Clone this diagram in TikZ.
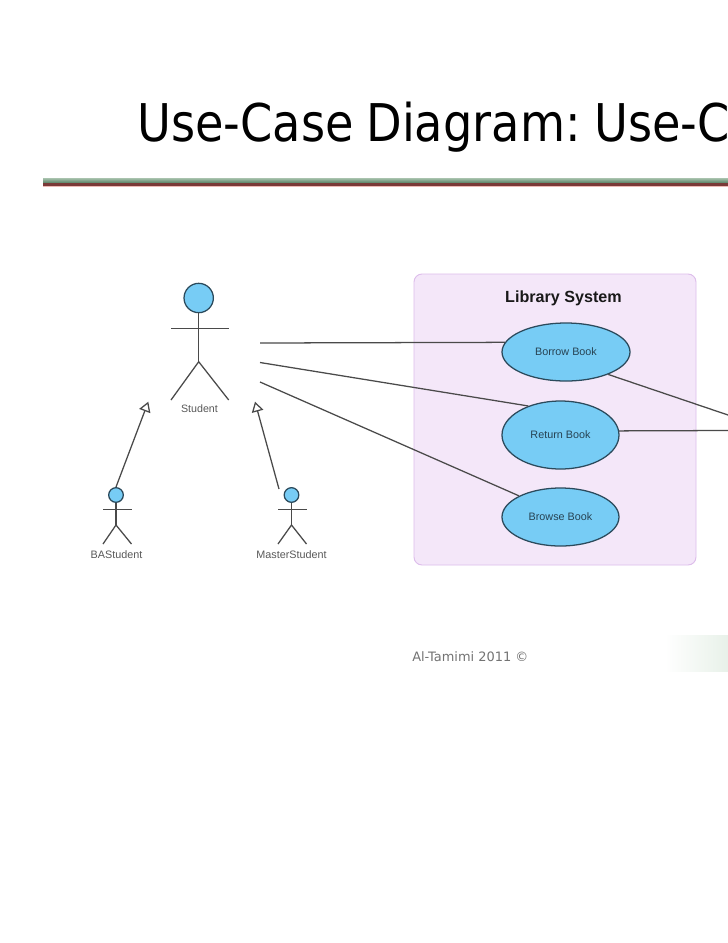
\documentclass[tikz,border=0pt]{standalone}
\usepackage{fontspec}
\setmainfont{Liberation Sans}
\newfontfamily\titlefont[FakeStretch=0.89,WordSpace=0.6]{DejaVu Sans}
\newfontfamily\footfont{DejaVu Sans}
\usetikzlibrary{shapes.geometric,arrows.meta}
\definecolor{ucfill}{HTML}{77CCF5}
\definecolor{ucline}{HTML}{2B4A5C}
\definecolor{lineink}{HTML}{4A4A4A}
\definecolor{sysfill}{HTML}{F4E7F9}
\definecolor{sysline}{HTML}{DDBDEB}
\definecolor{rulegreentop}{HTML}{A9C3AE}
\definecolor{rulegreen}{HTML}{4F7A5C}
\definecolor{rulered}{HTML}{7A3A38}
\definecolor{rulepink}{HTML}{EDB9B5}
\definecolor{footgreen}{HTML}{E8F1E9}
\tikzset{
  usecase/.style={draw=ucline,fill=ucfill,line width=0.95pt,ellipse,inner sep=0pt,font=\fontsize{8.1pt}{10pt}\selectfont,text=ucline!90!black},
  head/.style={draw=ucline,fill=ucfill,line width=0.95pt,circle,inner sep=0pt},
  limb/.style={draw=lineink,line width=0.95pt},
  assoc/.style={draw=lineink,line width=0.95pt},
  gener/.style={draw=lineink,line width=0.95pt,-{Triangle[open,length=7.5pt,width=8.8pt,fill=white]}},
  actorlabel/.style={text=black!65,inner sep=0pt},
}
\begin{document}
\begin{tikzpicture}[x=0.75pt,y=-0.75pt]
\path[clip] (0,0) rectangle (728,943);
\fill[white] (0,0) rectangle (728,943);
% title
\node[anchor=base west,inner sep=0pt,text=black] (title) at (137,141)
  {\titlefont\fontsize{39pt}{44pt}\selectfont Use-Case\kern3pt{} Diagram: Use-C};
% header rule
\fill[top color=rulegreentop,bottom color=rulegreen] (43,178) rectangle (728,183.4);
\fill[rulered] (43,183.4) rectangle (728,186.4);
\fill[rulepink] (43,186.4) rectangle (728,187.4);
% system
\node[draw=sysline,fill=sysfill,rounded corners=6pt,line width=0.7pt,
  minimum width=211.5pt,minimum height=218.25pt,inner sep=0pt] (system) at (555,419.5) {};
\node[font=\bfseries\fontsize{12.1pt}{14pt}\selectfont,text=black!90,inner sep=0pt] (systitle) at (563.5,298) {Library System};
% use cases
\node[usecase,minimum width=96pt,minimum height=43.5pt] (borrow) at (566,352) {Borrow Book};
\node[usecase,minimum width=87.75pt,minimum height=51pt] (return) at (560.5,435) {Return Book};
\node[usecase,minimum width=87.75pt,minimum height=43.5pt] (browse) at (560.5,517) {Browse Book};
% student
\node[head,minimum size=22pt] (stuhead) at (198.7,298) {};
\coordinate (stuarml) at (171,328.3);
\coordinate (stuarmr) at (228.7,328.3);
\coordinate (stuhip) at (198.7,361.7);
\coordinate (stufootl) at (171,400);
\coordinate (stufootr) at (228.7,400);
\draw[limb] (stuhead.south) -- (stuhip);
\draw[limb] (stuarml) -- (stuarmr);
\draw[limb] (stufootl) -- (stuhip) -- (stufootr);
\node[actorlabel,font=\fontsize{8pt}{10pt}\selectfont] (stulabel) at (199.5,409) {Student};
% BA student
\node[head,minimum size=11pt] (bahead) at (116,495) {};
\coordinate (baarml) at (103,509.7);
\coordinate (baarmr) at (131.5,509.7);
\coordinate (bahip) at (116,525);
\coordinate (bafootl) at (103,544);
\coordinate (bafootr) at (131.5,544);
\draw[limb] (bahead.south) -- (bahip);
\draw[limb] (baarml) -- (baarmr);
\draw[limb] (bafootl) -- (bahip) -- (bafootr);
\node[actorlabel,font=\fontsize{8.1pt}{10pt}\selectfont] (balabel) at (116.5,555) {BAStudent};
% Master student
\node[head,minimum size=11pt] (mahead) at (291.5,495) {};
\coordinate (maarml) at (278,509.7);
\coordinate (maarmr) at (306.5,509.7);
\coordinate (mahip) at (291.5,525);
\coordinate (mafootl) at (278,544);
\coordinate (mafootr) at (306.5,544);
\draw[limb] (mahead.south) -- (mahip);
\draw[limb] (maarml) -- (maarmr);
\draw[limb] (mafootl) -- (mahip) -- (mafootr);
\node[actorlabel,font=\fontsize{8.1pt}{10pt}\selectfont] (malabel) at (291.5,555) {MasterStudent};
% generalisations
\coordinate (batip) at (148.3,401.7);
\coordinate (matip) at (255,401.7);
\coordinate (mastart) at (279,489);
\draw[gener] (bahead.north) -- (batip);
\draw[gener] (mastart) -- (matip);
% associations
\coordinate (s1) at (260,343);
\coordinate (s2) at (260,362.5);
\coordinate (s3) at (260,382);
\coordinate (r1) at (728,415);
\coordinate (r2) at (728,430.5);
\draw[assoc] (s1) -- (borrow.171.5);
\draw[assoc] (s2) -- (return.138.8);
\draw[assoc] (s3) -- (browse.153);
\draw[assoc] (borrow.332) -- (r1);
\draw[assoc] (return.4.3) -- (r2);
% footer
\shade[left color=white,right color=footgreen] (665,635) rectangle (728,671);
\node[anchor=base west,inner sep=0pt,text=black!55,font=\footfont\fontsize{9.7pt}{12pt}\selectfont] (footer) at (412,661) {Al-Tamimi 2011 ©};
\end{tikzpicture}
\end{document}
